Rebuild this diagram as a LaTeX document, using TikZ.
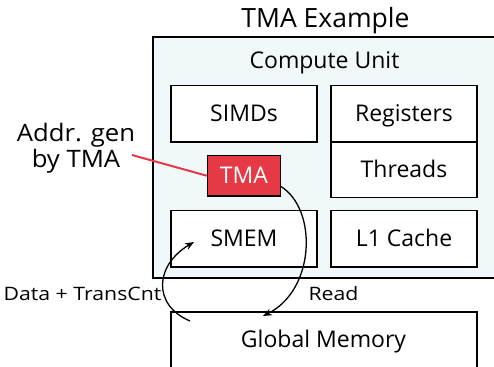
\documentclass[tikz,border=0pt]{standalone}
\usepackage{fontspec}
\setmainfont{Open Sans}
\newfontfamily\widefont[FakeStretch=1.15]{Open Sans}
\newfontfamily\midfont[FakeStretch=1.07]{Open Sans}
\usetikzlibrary{arrows.meta}
\definecolor{cufill}{HTML}{F1F8FA}
\definecolor{tmared}{HTML}{E63946}
\begin{document}
\begin{tikzpicture}[x=1pt,y=-1pt,
  box/.style={draw=black, line width=1.3pt, fill=white, inner sep=0pt,
    font=\fontsize{23}{26}\selectfont, text height=16.4pt, text depth=0pt},
  lbl/.style={anchor=base, inner sep=0pt},
  arr/.style={-{Stealth[length=9pt,width=7pt]}, line width=1.3pt},
]
\clip (0,0) rectangle (494,366);
\useasboundingbox (0,0) rectangle (494,366);
% compute unit
\node[draw=black, line width=1.3pt, fill=cufill, minimum width=347pt, minimum height=241pt, inner sep=0pt] (cu) at (326.5,157.5) {};
\node[lbl, font=\fontsize{26.5}{30}\selectfont] (title) at (325.5,27.3) {TMA Example};
\node[lbl, font=\fontsize{23}{26}\selectfont] (cutitle) at (324.5,69) {Compute Unit};
\node[box, minimum width=146pt, minimum height=56.5pt] (simd) at (244,113.75) {SIMDs};
\node[box, minimum width=146pt, minimum height=56.5pt] (reg) at (404,113.75) {Registers};
\node[box, minimum width=146pt, minimum height=55.5pt] (thr) at (404,169.75) {Threads};
\node[box, fill=tmared, text=white, minimum width=73pt, minimum height=40.5pt] (tma) at (244,175.75) {TMA};
\node[box, minimum width=146pt, minimum height=56.5pt] (smem) at (244,238.75) {SMEM};
\node[box, minimum width=146pt, minimum height=56.5pt] (l1) at (404,238.75) {L1 Cache};
\node[draw=black, line width=1.3pt, fill=white, minimum width=306pt, minimum height=80pt, inner sep=0pt] (gm) at (324,352) {};
\node[lbl, font=\fontsize{23}{26}\selectfont] (gmt) at (323.5,347.7) {Global Memory};
% labels
\node[lbl, align=center, font=\midfont\fontsize{24}{21}\selectfont] (addr) at (76,167) {Addr. gen\\by TMA};
\node[lbl, font=\widefont\fontsize{18.5}{20}\selectfont] (data) at (82.5,300.7) {Data + TransCnt};
\node[lbl, font=\widefont\fontsize{18.5}{20}\selectfont] (read) at (333.5,300.7) {Read};
\coordinate (redstart) at (132,155);
\draw[tmared, line width=2pt] (redstart) -- (tma.west);
% arrows
\coordinate (r1) at (281,186.5);
\coordinate (r2) at (263,316);
\draw[arr] (r1) .. controls (318,210) and (315,290) .. (r2);
\coordinate (d1) at (190,321);
\coordinate (d2) at (194,242);
\draw[arr] (d1) .. controls (152,305) and (155,265) .. (d2);
\end{tikzpicture}
\end{document}
